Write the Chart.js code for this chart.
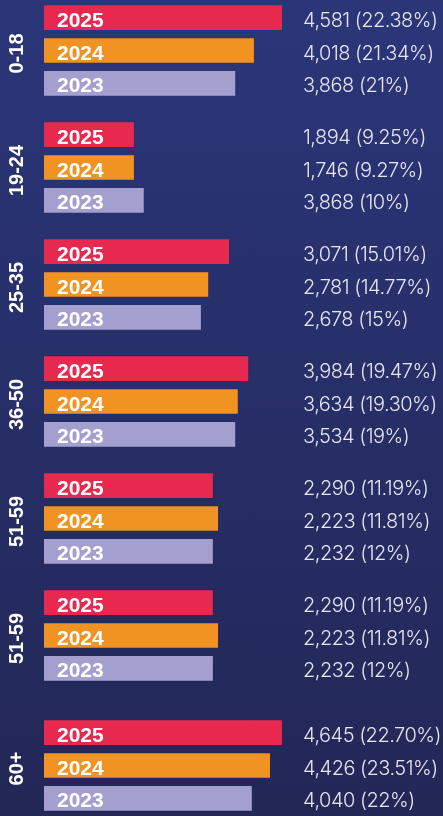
<!DOCTYPE html>
<html>
<head>
<meta charset="utf-8">
<script src="https://cdn.jsdelivr.net/npm/chart.js@4"></script>
<style>
  html, body { margin: 0; padding: 0; }
  body {
    width: 443px; height: 816px; overflow: hidden; position: relative;
    background: linear-gradient(#2b3679, #232756);
  }
  .box { position: absolute; left: 0; width: 443px; }
  #boxTop { top: -8px; height: 702px; }
  #boxBottom { top: 707px; height: 117px; }
</style>
</head>
<body>
<div class="box" id="boxTop"><canvas id="chartTop"></canvas></div>
<div class="box" id="boxBottom"><canvas id="chartBottom"></canvas></div>
<script>
// age groups (the source repeats 51-59)
const groups = ['0-18', '19-24', '25-35', '36-50', '51-59', '51-59', '60+'];
const years = ['2025', '2024', '2023'];

// figures printed next to the bars
const count2025 = [4581, 1894, 3071, 3984, 2290, 2290, 4645];
const count2024 = [4018, 1746, 2781, 3634, 2223, 2223, 4426];
const count2023 = [3868, 3868, 2678, 3534, 2232, 2232, 4040];
const share2025 = ['22.38', '9.25', '15.01', '19.47', '11.19', '11.19', '22.70'];
const share2024 = ['21.34', '9.27', '14.77', '19.30', '11.81', '11.81', '23.51'];
const share2023 = ['21', '10', '15', '19', '12', '12', '22'];

// bar lengths as drawn in the graphic (they don't follow the printed figures), same units
const bar2025 = [4580, 1730, 3560, 3930, 3250, 3250, 4580];
const bar2024 = [4040, 1730, 3160, 3730, 3350, 3350, 4350];
const bar2023 = [3680, 1920, 3020, 3680, 3250, 3250, 4000];

const colors = ['#e8294f', '#f09322', '#a39fcf'];
const bars = [bar2025, bar2024, bar2023];
const counts = [count2025, count2024, count2023];
const shares = [share2025, share2024, share2023];

// draws the year inside each bar, the figure on the right and the rotated group name
const labelPlugin = {
    id: 'labels',
    afterDatasetsDraw(chart) {
        const ctx = chart.ctx;
        const area = chart.chartArea;
        ctx.save();
        ctx.textBaseline = 'alphabetic';
        ctx.textAlign = 'left';
        chart.data.datasets.forEach(function (ds, di) {
            chart.getDatasetMeta(di).data.forEach(function (bar, i) {
                ctx.fillStyle = '#ffffff';
                ctx.font = 'bold 21px "Liberation Sans", Arial, sans-serif';
                ctx.fillText(ds.label, bar.base + 13, bar.y + 9);

                ctx.fillStyle = '#e6e6f2';
                ctx.font = '300 20px Inter, sans-serif';
                ctx.letterSpacing = '-0.5px';
                ctx.fillText(ds.counts[i].toLocaleString('en-US') + ' (' + ds.shares[i] + '%)', area.right, bar.y + 9);
                ctx.letterSpacing = '0px';
            });
        });
        const yScale = chart.scales.y;
        ctx.fillStyle = '#ffffff';
        ctx.font = 'bold 20px "Liberation Sans", Arial, sans-serif';
        ctx.textAlign = 'center';
        ctx.textBaseline = 'middle';
        chart.data.labels.forEach(function (lab, i) {
            ctx.save();
            ctx.translate(17, yScale.getPixelForValue(i) + 3);
            ctx.rotate(-Math.PI / 2);
            ctx.fillText(lab, 0, 0);
            ctx.restore();
        });
        ctx.restore();
    }
};

function makeChart(id, from, to) {
    return new Chart(document.getElementById(id), {
        type: 'bar',
        data: {
            labels: groups.slice(from, to),
            datasets: years.map(function (year, k) {
                return {
                    label: year,
                    data: bars[k].slice(from, to),
                    counts: counts[k].slice(from, to),
                    shares: shares[k].slice(from, to),
                    backgroundColor: colors[k],
                    borderWidth: 0,
                    barPercentage: 0.75,
                    categoryPercentage: 0.846
                };
            })
        },
        options: {
            indexAxis: 'y',
            responsive: true,
            maintainAspectRatio: false,
            animation: false,
            layout: { padding: { left: 44, right: 140, top: 0, bottom: 0 } },
            scales: {
                x: { display: false, min: 0, max: 4985 },
                y: { display: false }
            },
            plugins: {
                legend: { display: false },
                tooltip: { enabled: false }
            }
        },
        plugins: [labelPlugin]
    });
}

makeChart('chartTop', 0, 6);
makeChart('chartBottom', 6, 7);
</script>
</body>
</html>
